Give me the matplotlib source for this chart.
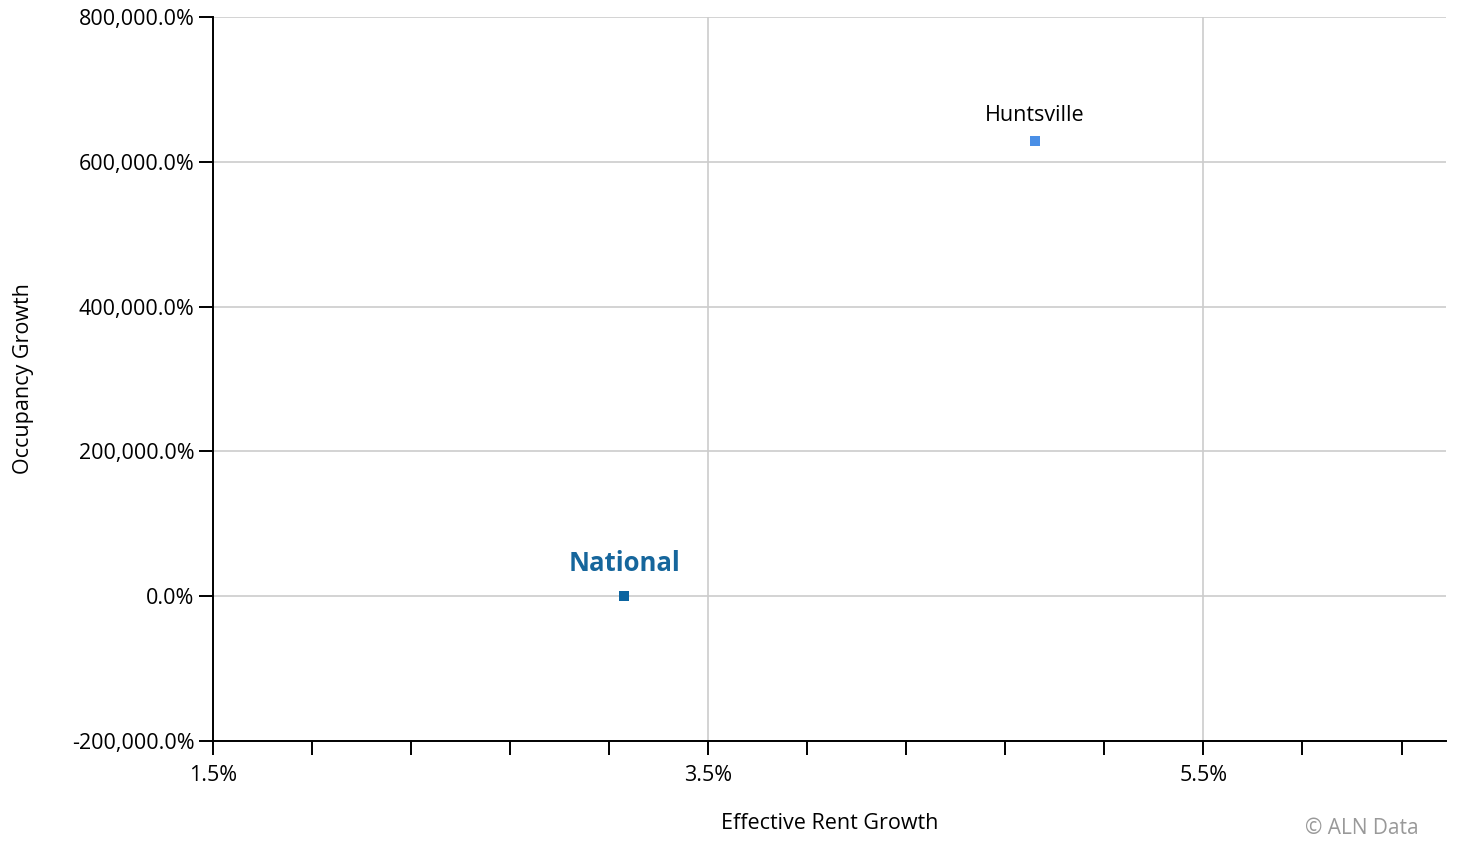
import matplotlib.pyplot as plt
from matplotlib.ticker import FuncFormatter, MultipleLocator, FixedLocator

plt.rcParams['font.family'] = ['Open Sans', 'DejaVu Sans']

# data
names = ['National', 'Huntsville']
rent_growth = [3.16, 4.82]          # effective rent growth, %
occ_growth = [0.0, 629000.0]        # occupancy growth, %
colors = ['#0b64a0', '#4a8fe6']
x_major = [1.5, 3.5, 5.5]
x_minor = [1.9, 2.3, 2.7, 3.1, 3.9, 4.3, 4.7, 5.1, 5.9, 6.3]

fig = plt.figure(figsize=(14.57, 8.42), dpi=100)
ax = fig.add_axes([0.1462, 0.12, 0.8463, 0.8598])

ax.scatter(rent_growth, occ_growth, marker='s', s=55, c=colors, zorder=3, linewidths=0)

# labels above points
ax.annotate(names[0], (rent_growth[0], occ_growth[0]), xytext=(0, 14), textcoords='offset points',
            ha='center', va='bottom', fontsize=18.5, fontweight='bold', color='#16669c')
ax.annotate(names[1], (rent_growth[1], occ_growth[1]), xytext=(0, 11), textcoords='offset points',
            ha='center', va='bottom', fontsize=15.5, color='black')

ax.set_xlim(1.5, 6.48)
ax.set_ylim(-200000, 800000)
ax.xaxis.set_major_locator(FixedLocator(x_major))
ax.xaxis.set_minor_locator(FixedLocator(x_minor))
ax.yaxis.set_major_locator(MultipleLocator(200000))
ax.xaxis.set_major_formatter(FuncFormatter(lambda v, p: '{:.1f}%'.format(v)))
ax.yaxis.set_major_formatter(FuncFormatter(lambda v, p: '{:,.1f}%'.format(v)))

ax.grid(True, which='major', color='#cccccc', linewidth=1.2)
ax.set_axisbelow(True)
for s in ['top', 'right']:
    ax.spines[s].set_visible(False)
for s in ['left', 'bottom']:
    ax.spines[s].set_linewidth(1.4)
ax.tick_params(axis='both', which='both', length=10, width=1.4, labelsize=15.5, color='black')
ax.tick_params(axis='x', which='major', pad=7)

ax.set_xlabel('Effective Rent Growth', fontsize=15.5, labelpad=20)
ax.set_ylabel('Occupancy Growth', fontsize=15.5, labelpad=27)

fig.text(0.974, 0.004, '\u00a9 ALN Data', ha='right', va='bottom', fontsize=15, color='#999999')

plt.savefig('out.png', dpi=100)
